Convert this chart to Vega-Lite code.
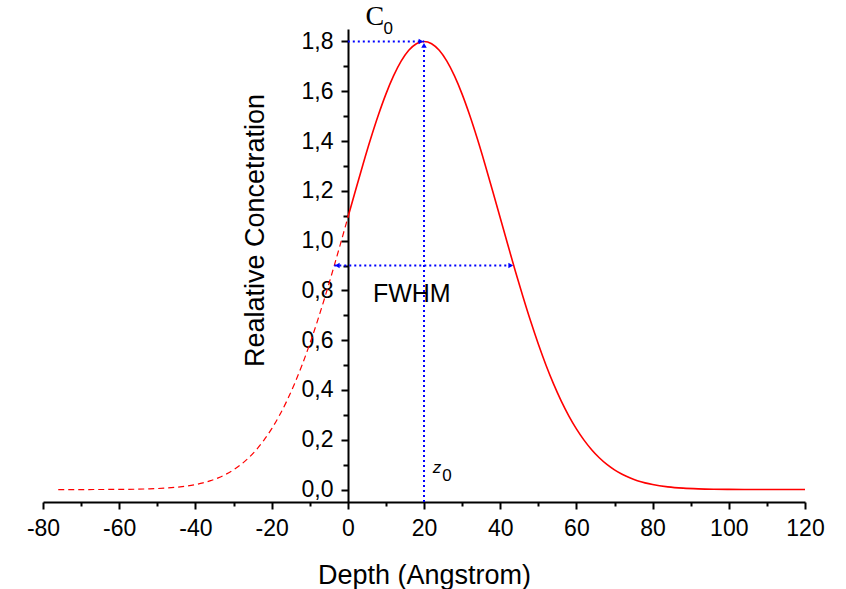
{
  "$schema": "https://vega.github.io/schema/vega-lite/v6.json",
  "width": 762,
  "height": 473,
  "autosize": {"type": "none"},
  "padding": {"left": 43, "top": 29, "right": 41, "bottom": 87},
  "background": "white",
  "config": {
    "view": {"stroke": null},
    "axis": {
      "grid": false,
      "domainColor": "black",
      "domainWidth": 2,
      "tickColor": "black",
      "tickWidth": 2,
      "labelColor": "black",
      "labelFont": "Liberation Sans",
      "labelFontSize": 23,
      "titleFont": "Liberation Sans",
      "titleColor": "black",
      "titleFontWeight": "normal",
      "titleFontSize": 27
    }
  },
  "datasets": {
    "solid": [
      {"depth": 0, "conc": 1.0918}, {"depth": 2, "conc": 1.2006}, {"depth": 4, "conc": 1.307}, {"depth": 6, "conc": 1.4089},
      {"depth": 8, "conc": 1.5035}, {"depth": 10, "conc": 1.5885}, {"depth": 12, "conc": 1.6616}, {"depth": 14, "conc": 1.7208},
      {"depth": 16, "conc": 1.7644}, {"depth": 18, "conc": 1.791}, {"depth": 20, "conc": 1.8}, {"depth": 22, "conc": 1.791},
      {"depth": 24, "conc": 1.7644}, {"depth": 26, "conc": 1.7208}, {"depth": 28, "conc": 1.6616}, {"depth": 30, "conc": 1.5885},
      {"depth": 32, "conc": 1.5035}, {"depth": 34, "conc": 1.4089}, {"depth": 36, "conc": 1.307}, {"depth": 38, "conc": 1.2006},
      {"depth": 40, "conc": 1.0918}, {"depth": 42, "conc": 0.983}, {"depth": 44, "conc": 0.8762}, {"depth": 46, "conc": 0.7733},
      {"depth": 48, "conc": 0.6756}, {"depth": 50, "conc": 0.5845}, {"depth": 52, "conc": 0.5004}, {"depth": 54, "conc": 0.4243},
      {"depth": 56, "conc": 0.3562}, {"depth": 58, "conc": 0.2961}, {"depth": 60, "conc": 0.2436}, {"depth": 62, "conc": 0.1985},
      {"depth": 64, "conc": 0.1601}, {"depth": 66, "conc": 0.1278}, {"depth": 68, "conc": 0.101}, {"depth": 70, "conc": 0.0791},
      {"depth": 72, "conc": 0.0613}, {"depth": 74, "conc": 0.047}, {"depth": 76, "conc": 0.0357}, {"depth": 78, "conc": 0.0269},
      {"depth": 80, "conc": 0.02}, {"depth": 84, "conc": 0.0108}, {"depth": 88, "conc": 0.0056}, {"depth": 92, "conc": 0.0028},
      {"depth": 96, "conc": 0.0013}, {"depth": 100, "conc": 0.0006}, {"depth": 104, "conc": 0.0003}, {"depth": 108, "conc": 0.0001},
      {"depth": 112, "conc": 0.0}, {"depth": 116, "conc": 0.0}, {"depth": 120, "conc": 0.0}
    ],
    "dashed": [
      {"depth": -76, "conc": 0.0}, {"depth": -72, "conc": 0.00005}, {"depth": -68, "conc": 0.0001}, {"depth": -64, "conc": 0.0003},
      {"depth": -60, "conc": 0.0006}, {"depth": -56, "conc": 0.0013}, {"depth": -52, "conc": 0.0028}, {"depth": -48, "conc": 0.0056},
      {"depth": -44, "conc": 0.0108}, {"depth": -40, "conc": 0.02}, {"depth": -38, "conc": 0.0269}, {"depth": -36, "conc": 0.0357},
      {"depth": -34, "conc": 0.047}, {"depth": -32, "conc": 0.0613}, {"depth": -30, "conc": 0.0791}, {"depth": -28, "conc": 0.101},
      {"depth": -26, "conc": 0.1278}, {"depth": -24, "conc": 0.1601}, {"depth": -22, "conc": 0.1985}, {"depth": -20, "conc": 0.2436},
      {"depth": -18, "conc": 0.2961}, {"depth": -16, "conc": 0.3562}, {"depth": -14, "conc": 0.4243}, {"depth": -12, "conc": 0.5004},
      {"depth": -10, "conc": 0.5845}, {"depth": -8, "conc": 0.6756}, {"depth": -6, "conc": 0.7733}, {"depth": -4, "conc": 0.8762},
      {"depth": -2, "conc": 0.983}, {"depth": 0, "conc": 1.0918}
    ],
    "guides": [
      {"x": 0, "x2": 20, "y": 1.8, "y2": 1.8},
      {"x": 20, "x2": 20, "y": -0.05, "y2": 1.8},
      {"x": -3.55, "x2": 43.55, "y": 0.9, "y2": 0.9}
    ]
  },
  "layer": [
    {
      "data": {"name": "solid"},
      "mark": {"type": "line", "color": "#ff0000", "strokeWidth": 1.6, "interpolate": "monotone"},
      "encoding": {
        "x": {
          "field": "depth", "type": "quantitative",
          "scale": {"domain": [-80, 120], "nice": false, "zero": false},
          "axis": {
            "orient": "bottom",
            "values": [-80, -60, -40, -20, 0, 20, 40, 60, 80, 100, 120],
            "tickSize": 7, "labelPadding": 8, "labelFlush": false, "labelOverlap": false,
            "labelExpr": "datum.value + ''",
            "title": "Depth (Angstrom)", "titleY": 81, "titleBaseline": "alphabetic"
          }
        },
        "y": {
          "field": "conc", "type": "quantitative",
          "scale": {"domain": [-0.05, 1.85], "nice": false, "zero": false},
          "axis": {
            "orient": "left", "offset": -305,
            "values": [0, 0.2, 0.4, 0.6, 0.8, 1.0, 1.2, 1.4, 1.6, 1.8],
            "tickSize": 7, "labelPadding": 8, "labelFlush": false, "labelOverlap": false,
            "labelExpr": "replace(format(datum.value, '.1f'), '.', ',')",
            "title": "Realative Concetration", "titleX": -85, "titleY": 201, "titleBaseline": "alphabetic"
          }
        }
      }
    },
    {
      "data": {"name": "dashed"},
      "mark": {"type": "line", "color": "#ff0000", "strokeWidth": 1.2, "strokeDash": [6, 4], "interpolate": "monotone"},
      "encoding": {
        "x": {
          "field": "depth", "type": "quantitative",
          "scale": {"domain": [-80, 120], "nice": false, "zero": false},
          "axis": {
            "orient": "bottom",
            "values": [-70, -50, -30, -10, 10, 30, 50, 70, 90, 110],
            "tickSize": 4, "labels": false, "domain": false, "title": null
          }
        },
        "y": {
          "field": "conc", "type": "quantitative",
          "scale": {"domain": [-0.05, 1.85], "nice": false, "zero": false},
          "axis": {
            "orient": "left", "offset": -305,
            "values": [0.1, 0.3, 0.5, 0.7, 0.9, 1.1, 1.3, 1.5, 1.7],
            "tickSize": 5, "labels": false, "domain": false, "title": null
          }
        }
      }
    },
    {
      "data": {"name": "guides"},
      "mark": {"type": "rule", "color": "#0000ff", "strokeWidth": 2, "strokeDash": [2, 3], "strokeCap": "butt"},
      "encoding": {
        "x": {"field": "x", "type": "quantitative", "axis": null},
        "x2": {"field": "x2"},
        "y": {"field": "y", "type": "quantitative", "axis": null},
        "y2": {"field": "y2"}
      }
    },
    {
      "data": {"values": [{"x": 20, "y": 1.8}, {"x": 43.55, "y": 0.9}]},
      "mark": {"type": "point", "shape": "triangle-right", "filled": true, "color": "#0000ff", "size": 30, "opacity": 1, "xOffset": -3},
      "encoding": {
        "x": {"field": "x", "type": "quantitative", "axis": null},
        "y": {"field": "y", "type": "quantitative", "axis": null}
      }
    },
    {
      "data": {"values": [{"x": 20, "y": 1.8}]},
      "mark": {"type": "point", "shape": "triangle-up", "filled": true, "color": "#0000ff", "size": 30, "opacity": 1, "yOffset": 4},
      "encoding": {
        "x": {"field": "x", "type": "quantitative", "axis": null},
        "y": {"field": "y", "type": "quantitative", "axis": null}
      }
    },
    {
      "data": {"values": [{"x": -3.55, "y": 0.9}]},
      "mark": {"type": "point", "shape": "triangle-left", "filled": true, "color": "#0000ff", "size": 30, "opacity": 1, "xOffset": 3},
      "encoding": {
        "x": {"field": "x", "type": "quantitative", "axis": null},
        "y": {"field": "y", "type": "quantitative", "axis": null}
      }
    },
    {
      "data": {"values": [{"label": "FWHM", "x": 16.8, "y": 0.787}]},
      "mark": {"type": "text", "font": "Liberation Sans", "fontSize": 25, "color": "black", "baseline": "middle", "align": "center"},
      "encoding": {
        "x": {"field": "x", "type": "quantitative", "axis": null},
        "y": {"field": "y", "type": "quantitative", "axis": null},
        "text": {"field": "label"}
      }
    },
    {
      "data": {"values": [{"label": "C", "x": 7.1, "y": 1.9}]},
      "mark": {"type": "text", "font": "Liberation Serif", "fontSize": 28, "color": "black", "baseline": "middle", "align": "center"},
      "encoding": {
        "x": {"field": "x", "type": "quantitative", "axis": null},
        "y": {"field": "y", "type": "quantitative", "axis": null},
        "text": {"field": "label"}
      }
    },
    {
      "data": {"values": [{"label": "z", "x": 23.4, "y": 0.088}]},
      "mark": {"type": "text", "font": "Liberation Sans", "fontSize": 17, "fontStyle": "italic", "color": "black", "baseline": "middle", "align": "center"},
      "encoding": {
        "x": {"field": "x", "type": "quantitative", "axis": null},
        "y": {"field": "y", "type": "quantitative", "axis": null},
        "text": {"field": "label"}
      }
    },
    {
      "data": {"values": [{"label": "0", "x": 10.6, "y": 1.851}, {"label": "0", "x": 26.0, "y": 0.056}]},
      "mark": {"type": "text", "font": "Liberation Sans", "fontSize": 17, "color": "black", "baseline": "middle", "align": "center"},
      "encoding": {
        "x": {"field": "x", "type": "quantitative", "axis": null},
        "y": {"field": "y", "type": "quantitative", "axis": null},
        "text": {"field": "label"}
      }
    }
  ],
  "resolve": {"axis": {"x": "independent", "y": "independent"}}
}
